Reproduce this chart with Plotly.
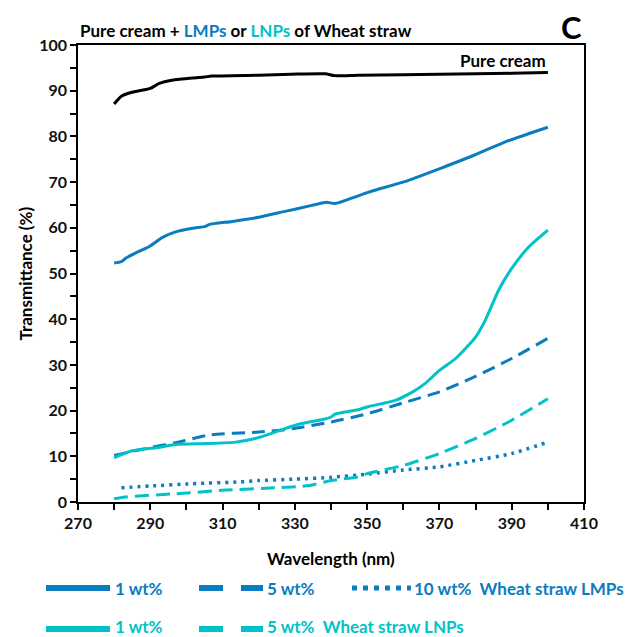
import plotly.graph_objects as go

# ---------------- data ----------------
wl_cream = [280, 282, 284.7, 288.4, 290, 292.5, 296, 301.6, 305, 307, 320, 329, 338.4, 341, 347.5, 360, 370, 380, 390, 400]
t_cream = [87.1, 88.8, 89.6, 90.2, 90.5, 91.6, 92.3, 92.8, 93.0, 93.2, 93.4, 93.6, 93.7, 93.3, 93.4, 93.5, 93.6, 93.7, 93.8, 94.0]

wl_lmp1 = [280, 282, 283.3, 286, 289.7, 293.4, 297, 301.7, 305.3, 306.2, 312.7, 320, 327.3, 334.7, 338.8, 341.1, 347.5, 351.2, 360.4, 369.6, 378.7, 387.9, 400]
t_lmp1 = [52.3, 52.6, 53.4, 54.5, 55.9, 57.9, 59.1, 59.9, 60.3, 60.7, 61.4, 62.3, 63.6, 64.9, 65.6, 65.3, 67.0, 68.0, 70.1, 72.8, 75.6, 78.7, 82.0]

wl_lmp5 = [280, 290, 296.6, 306.7, 320, 329, 340, 350, 360, 370, 380, 390, 400]
t_lmp5 = [10.2, 11.9, 12.9, 14.7, 15.3, 16.0, 17.5, 19.3, 21.7, 24.1, 27.5, 31.4, 35.8]

wl_lmp10 = [282, 290, 301.6, 315, 320, 330, 340, 350, 360, 370, 380, 390, 400]
t_lmp10 = [3.1, 3.5, 4.0, 4.4, 4.7, 5.0, 5.4, 6.1, 7.0, 7.7, 9.1, 10.6, 13.1]

wl_lnp1 = [280, 285, 292.5, 297, 306, 313.6, 319, 324.6, 331, 338, 340, 341, 347.5, 350, 358, 362.6, 366, 370, 374.5, 380, 382.7, 386.4, 390, 394.7, 400]
t_lnp1 = [9.7, 11.2, 12.0, 12.6, 12.8, 13.1, 13.9, 15.3, 17.0, 18.1, 18.6, 19.2, 20.2, 20.8, 22.3, 24.1, 25.9, 28.8, 31.4, 36.1, 39.8, 46.4, 51.1, 55.8, 59.5]

wl_lnp5 = [280, 283, 297, 311, 324.6, 334, 340, 347.5, 350, 360, 370, 380, 390, 400]
t_lnp5 = [0.7, 1.1, 1.8, 2.6, 3.1, 3.6, 4.7, 5.5, 6.2, 8.0, 10.6, 13.9, 17.9, 22.6]

x_ticks = [270, 290, 310, 330, 350, 370, 390, 410]
y_ticks = [0, 10, 20, 30, 40, 50, 60, 70, 80, 90, 100]

# ---------------- style ----------------
BLUE = "#0a7cbf"
CYAN = "#00c2c8"
FONT = "Lato"
W, H = 643, 637
L, R, T, B = 78, 59, 45, 135
PW, PH = W - L - R, H - T - B


def px(x):
    return (x - L) / PW


def py(y):
    return (H - B - y) / PH


def line(color, width=3, dash="solid"):
    return dict(color=color, width=width, dash=dash, shape="spline", smoothing=0.6)


fig = go.Figure()
fig.add_trace(go.Scatter(x=wl_cream, y=t_cream, mode="lines", line=line("black")))
fig.add_trace(go.Scatter(x=wl_lmp1, y=t_lmp1, mode="lines", line=line(BLUE)))
fig.add_trace(go.Scatter(x=wl_lmp5, y=t_lmp5, mode="lines", line=line(BLUE, 3, "13px,7px")))
fig.add_trace(go.Scatter(x=wl_lmp10, y=t_lmp10, mode="lines", line=line(BLUE, 3.5, "3px,5px")))
fig.add_trace(go.Scatter(x=wl_lnp1, y=t_lnp1, mode="lines", line=line(CYAN)))
fig.add_trace(go.Scatter(x=wl_lnp5, y=t_lnp5, mode="lines", line=line(CYAN, 3, "14px,7px")))

axis_common = dict(
    showline=True, linecolor="black", linewidth=1.5, mirror=True,
    ticks="outside", ticklen=6, tickwidth=1.5, tickcolor="black",
    showgrid=False, zeroline=False,
    tickfont=dict(family=FONT, size=16, color="#111", weight="bold"),
)
fig.update_xaxes(range=[270, 410], tickvals=x_ticks,
                 minor=dict(dtick=10, tick0=270, ticks="outside", ticklen=6, tickwidth=1.5, tickcolor="black"),
                 **axis_common)
fig.update_yaxes(range=[0, 100], tickvals=y_ticks,
                 minor=dict(dtick=5, tick0=0, ticks="outside", ticklen=6, tickwidth=1.5, tickcolor="black"),
                 **axis_common)

ann = []
title = ("Pure cream + <span style='color:%s'>LMPs</span> or "
         "<span style='color:%s'>LNPs</span> of Wheat straw") % (BLUE, CYAN)
ann.append(dict(text="<b>" + title + "</b>", xref="paper", yref="paper", x=0, y=py(30),
                xanchor="left", yanchor="middle", showarrow=False,
                font=dict(family=FONT, size=17, color="black")))
ann.append(dict(text="<b>C</b>", xref="paper", yref="paper", x=1, y=py(27), xanchor="right",
                yanchor="middle", showarrow=False, font=dict(family=FONT, size=31, color="black")))
ann.append(dict(text="<b>Pure cream</b>", xref="x", yref="y", x=400, y=96.5, xanchor="right",
                yanchor="middle", showarrow=False, font=dict(family=FONT, size=17, color="black")))
ann.append(dict(text="<b>Transmittance (%)</b>", xref="paper", yref="paper", x=px(25), y=0.5,
                textangle=-90, xanchor="center", yanchor="middle", showarrow=False,
                font=dict(family=FONT, size=17, color="black")))
ann.append(dict(text="<b>Wavelength (nm)</b>", xref="paper", yref="paper", x=0.5, y=py(558),
                xanchor="center", yanchor="middle", showarrow=False,
                font=dict(family=FONT, size=17, color="black")))

shapes = []


def leg_line(x0, x1, y, color, dash="solid", width=6):
    shapes.append(dict(type="line", xref="paper", yref="paper", x0=px(x0), x1=px(x1), y0=py(y), y1=py(y),
                       line=dict(color=color, width=width, dash=dash)))


def leg_text(x, y, text, color):
    ann.append(dict(text="<b>" + text + "</b>", xref="paper", yref="paper", x=px(x), y=py(y),
                    xanchor="left", yanchor="middle", showarrow=False,
                    font=dict(family=FONT, size=17, color=color)))


r1, r2 = 588, 626
leg_line(46, 110, r1, BLUE)
leg_text(113, r1, "1 wt%", BLUE)
leg_line(199, 263, r1, BLUE, dash="24px,18px")
leg_text(265, r1, "5 wt%", BLUE)
leg_line(352, 411, r1, BLUE, dash="5px,6px", width=5)
leg_text(412, r1, "10 wt%&nbsp;&nbsp;Wheat straw LMPs", BLUE)

leg_line(46, 110, r2 + 3, CYAN)
leg_text(113, r2, "1 wt%", CYAN)
leg_line(199, 263, r2 + 3, CYAN, dash="24px,18px")
leg_text(265, r2, "5 wt%&nbsp;&nbsp;Wheat straw LNPs", CYAN)

fig.update_layout(
    width=W, height=H, margin=dict(l=L, r=R, t=T, b=B),
    plot_bgcolor="white", paper_bgcolor="white",
    showlegend=False, annotations=ann, shapes=shapes,
    font=dict(family=FONT),
)

fig.write_html("out.html")
